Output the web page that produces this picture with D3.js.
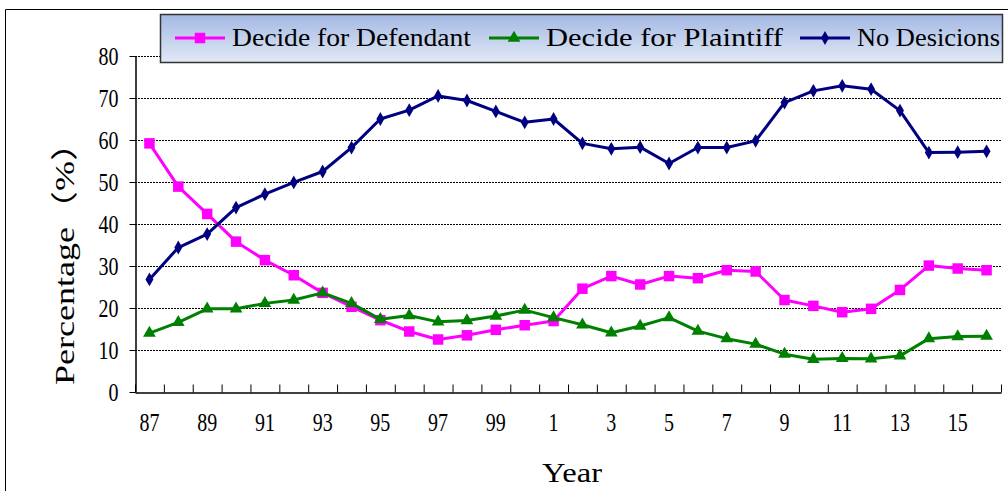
<!DOCTYPE html>
<meta charset="utf-8">
<script src="https://d3js.org/d3.v7.min.js"></script>
<div id="chart"></div>
<style>
  body { margin: 0; background: #fff; }
  text { font-family: 'Liberation Serif', 'Noto Sans CJK SC', serif; fill: #000; }
</style>
<script>

// data
var years = ["87","88","89","90","91","92","93","94","95","96","97","98","99","0",
             "1","2","3","4","5","6","7","8","9","10","11","12","13","14","15","16"];
var defendant = [59.2,48.9,42.4,35.8,31.4,27.8,23.6,20.3,17.1,14.4,12.5,13.5,14.8,15.9,
                 16.9,24.6,27.6,25.6,27.6,27.1,29.0,28.7,21.9,20.5,19.0,19.8,24.3,30.1,29.4,29.0];
var plaintiff = [14.0,16.6,19.8,19.8,21.1,21.9,23.6,21.1,17.3,18.2,16.7,17.0,18.1,19.5,
                 17.7,16.0,14.1,15.7,17.7,14.5,12.7,11.4,9.0,7.8,8.0,7.9,8.6,12.7,13.2,13.3];
var noDecision = [26.8,34.4,37.6,43.9,47.1,49.9,52.5,58.2,65.0,67.1,70.5,69.4,66.8,64.2,
                  65.0,59.2,57.9,58.3,54.4,58.2,58.2,59.8,68.9,71.7,72.9,72.1,67.0,57.0,57.1,57.3];
var yTicks = [0,10,20,30,40,50,60,70,80];
var seriesNames = ["Decide for Defendant","Decide for Plaintiff","No Desicions"];

var series = [
  {name: seriesNames[0], values: defendant,  color: "#ff00ff", shape: "square"},
  {name: seriesNames[1], values: plaintiff,  color: "#008000", shape: "triangle"},
  {name: seriesNames[2], values: noDecision, color: "#000080", shape: "diamond"}
];

var W = 1008, H = 491;
var plot = {left: 135, right: 1001, top: 56, bottom: 392};

var svg = d3.select("#chart").append("svg")
  .attr("width", W).attr("height", H);

// outer chart border (only top and left show)
svg.append("path")
  .attr("d", "M5.5,491 V9.5 H1008")
  .attr("fill", "none").attr("stroke", "#000").attr("stroke-width", 1);

var x = d3.scaleBand().domain(years).range([plot.left, plot.right]);
var xEdge = d3.scaleLinear().domain([0, years.length]).range([plot.left, plot.right]);
var y = d3.scaleLinear().domain([0, 80]).range([plot.bottom, plot.top]);

// gridlines
svg.append("g").selectAll("line")
  .data(yTicks.filter(d => d > 0))
  .join("line")
    .attr("x1", plot.left).attr("x2", plot.right)
    .attr("y1", d => Math.round(y(d)) + 0.5).attr("y2", d => Math.round(y(d)) + 0.5)
    .attr("stroke", "#000").attr("stroke-width", 1)
    .attr("stroke-dasharray", "2,1");

// y axis
var yAxis = svg.append("g")
  .attr("transform", "translate(" + (plot.left + 0.5) + ",0)")
  .call(d3.axisLeft(y).tickValues(yTicks).tickSize(6).tickPadding(11).tickSizeOuter(0));
yAxis.select(".domain").attr("stroke", "#000").attr("stroke-width", 1.5);
yAxis.selectAll(".tick line").attr("stroke", "#000");
yAxis.selectAll("text")
  .attr("font-size", 25)
  .attr("font-family", null)
  .attr("textLength", d => String(d).length * 10)
  .attr("lengthAdjust", "spacingAndGlyphs");

// x axis: tick marks at category edges, pointing up
var xTicks = svg.append("g")
  .attr("transform", "translate(0," + (plot.bottom + 0.5) + ")")
  .call(d3.axisBottom(xEdge).ticks(years.length).tickSize(-8).tickFormat("").tickSizeOuter(0));
xTicks.select(".domain").attr("stroke", "#000").attr("stroke-width", 1.5);
xTicks.selectAll(".tick line").attr("stroke", "#000");

// x labels at every other category
var xLabels = svg.append("g")
  .attr("transform", "translate(0," + plot.bottom + ")")
  .call(d3.axisBottom(x).tickValues(years.filter((d, i) => i % 2 == 0)).tickSize(0).tickPadding(21));
xLabels.select(".domain").remove();
xLabels.selectAll("text")
  .attr("font-size", 25)
  .attr("font-family", null)
  .attr("textLength", d => d.length * 10)
  .attr("lengthAdjust", "spacingAndGlyphs");

// axis titles
svg.append("text")
  .attr("x", 572).attr("y", 482)
  .attr("text-anchor", "middle")
  .attr("font-size", 27)
  .attr("textLength", 60).attr("lengthAdjust", "spacingAndGlyphs")
  .text("Year");

svg.append("text")
  .attr("transform", "translate(74,255) rotate(-90)")
  .attr("text-anchor", "middle")
  .attr("font-size", 27)
  .attr("textLength", 260).attr("lengthAdjust", "spacingAndGlyphs")
  .text("Percentage（%）");

// markers
var symbols = {
  square: d3.symbol().type(d3.symbolSquare).size(110),
  triangle: d3.symbol().type(d3.symbolTriangle).size(70),
  diamond: d3.symbol().type(d3.symbolDiamond).size(55)
};

var line = d3.line()
  .x((d, i) => x(years[i]) + x.bandwidth() / 2)
  .y(d => y(d));

series.forEach(function(s) {
  var g = svg.append("g");
  g.append("path")
    .attr("d", line(s.values))
    .attr("fill", "none").attr("stroke", s.color).attr("stroke-width", 3)
    .attr("stroke-linejoin", "round");
  g.selectAll("path.pt")
    .data(s.values)
    .join("path")
      .attr("class", "pt")
      .attr("transform", (d, i) => "translate(" + (x(years[i]) + x.bandwidth() / 2) + "," + y(d) + ")")
      .attr("d", symbols[s.shape]())
      .attr("fill", s.color);
});

// legend
var grad = svg.append("defs").append("linearGradient")
  .attr("id", "lg").attr("x1", 0).attr("x2", 0).attr("y1", 0).attr("y2", 1);
grad.append("stop").attr("offset", "0%").attr("stop-color", "#a3b8e3");
grad.append("stop").attr("offset", "100%").attr("stop-color", "#e2e9f6");

var legend = svg.append("g");
legend.append("rect")
  .attr("x", 160.5).attr("y", 14.5).attr("width", 842).attr("height", 48)
  .attr("fill", "url(#lg)").attr("stroke", "#333").attr("stroke-width", 1.5);

var legendX = [175, 489, 800];
var legendW = [239, 237, 143];
series.forEach(function(s, i) {
  var lx = legendX[i], ly = 38;
  legend.append("line")
    .attr("x1", lx).attr("x2", lx + 50).attr("y1", ly).attr("y2", ly)
    .attr("stroke", s.color).attr("stroke-width", 3);
  legend.append("path")
    .attr("transform", "translate(" + (lx + 25) + "," + ly + ")")
    .attr("d", symbols[s.shape]())
    .attr("fill", s.color);
  legend.append("text")
    .attr("x", lx + 57).attr("y", ly + 8)
    .attr("font-size", 26)
    .attr("textLength", legendW[i]).attr("lengthAdjust", "spacingAndGlyphs")
    .text(s.name);
});

</script>
